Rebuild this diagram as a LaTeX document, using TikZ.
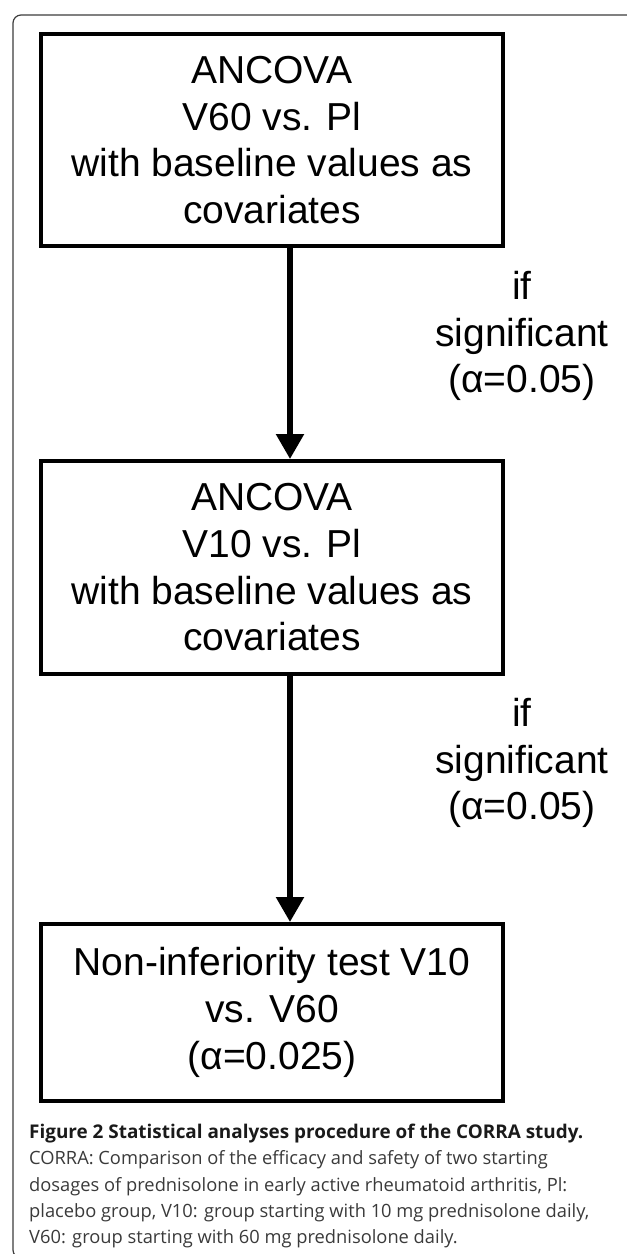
\documentclass[tikz,border=0pt]{standalone}
\usepackage{fontspec}
\setmainfont{Liberation Sans}
\newfontfamily\capfont{Open Sans}
\usepackage{tikz}
\usetikzlibrary{arrows.meta, positioning, calc}
\definecolor{framegray}{HTML}{3C3C3C}
\definecolor{captext}{HTML}{3A3A3A}
\definecolor{capbold}{HTML}{1A1A1A}
\newcommand{\boxfont}{\fontsize{39}{46.7}\selectfont}

\begin{document}
\begin{tikzpicture}[x=1pt, y=-1pt,
  box/.style={draw=black, line width=4pt, minimum width=462pt, inner sep=0pt,
              font=\boxfont, align=center},
  arr/.style={-{Triangle[width=27pt, length=25pt]}, line width=5.5pt},
  lbl/.style={font=\boxfont, align=center},
  captxt/.style={font=\capfont\fontsize{18.3}{26.2}\selectfont, align=left,
              inner sep=0pt, anchor=north west, color=captext}
]
\useasboundingbox (0,0) rectangle (627,1254);

% Page frame
\begin{scope}
  \clip (0,0) rectangle (627,1254);
  \draw[framegray, line width=1.2pt, rounded corners=8pt]
    (640,15) -- (13,15) -- (13,1258) -- (640,1258);
\end{scope}

% First ANCOVA
\node[box, minimum height=212pt] (anc60) at (272,140)
  {ANCOVA\\V60 vs. Pl\\with baseline values as\\covariates};

% Second ANCOVA
\node[box, minimum height=213pt] (anc10) at (272,567.5)
  {ANCOVA\\V10 vs. Pl\\with baseline values as\\covariates};

% Non-inferiority test
\node[box, minimum height=177pt] (noninf) at (272,1012.5)
  {Non-inferiority test V10\\vs. V60\\(α=0.025)};

% Arrows
\draw[arr] ([xshift=18pt]anc60.south) -- ([xshift=18pt]anc10.north);
\draw[arr] ([xshift=18pt]anc10.south) -- ([xshift=18pt]noninf.north);

% Conditions
\node[lbl] (sig1) at (522,336) {if\\significant\\(α=0.05)};
\node[lbl] (sig2) at (522,763) {if\\significant\\(α=0.05)};

% Caption
\node[captxt] (caption) at (29,1124)
  {{\fontsize{18.9}{26.2}\selectfont\bfseries\color{capbold}Figure 2 Statistical analyses procedure of the CORRA study.}\\
   CORRA: Comparison of the efficacy and safety of two starting\\
   dosages of prednisolone in early active rheumatoid arthritis, Pl:\\
   placebo group, V10: group starting with 10 mg prednisolone daily,\\
   V60: group starting with 60 mg prednisolone daily.};

\end{tikzpicture}
\end{document}
